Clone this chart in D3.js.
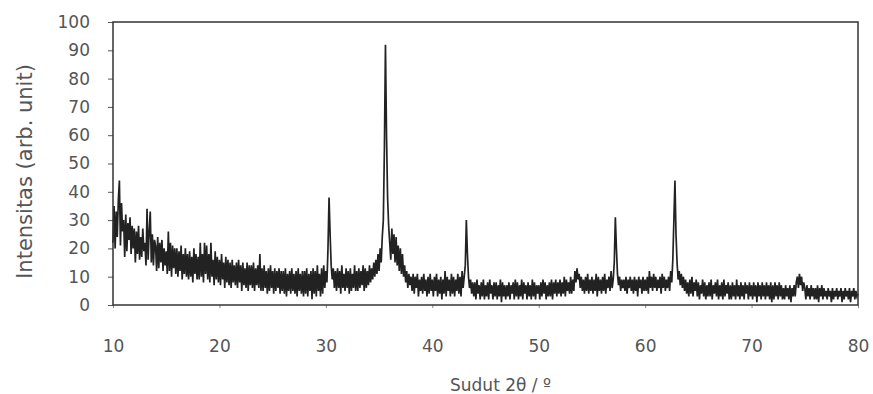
<!DOCTYPE html>
<html>
<head>
<meta charset="utf-8">
<script src="https://cdn.jsdelivr.net/npm/d3@7"></script>
<style>
  body { margin: 0; background: #fff; }
  text { font-family: "DejaVu Sans", Arial, sans-serif; fill: #555; }
</style>
</head>
<body>
<figure id="xrd" style="margin:0"></figure>
<script>
// 2-theta start / step of the scan (deg)
const thetaStart = 10;
const thetaStep = 0.1;

// intensity, one row per degree (10.0 .. 79.9), last point 80.0
const intensity = [
  22,35,20,33,24,37,44,21,36,26,
  30,17,32,19,29,23,31,18,28,20,
  27,15,26,18,28,16,24,17,27,19,
  22,14,34,16,26,33,15,25,14,23,
  21,12,24,13,22,15,23,12,20,14,
  19,11,26,12,22,10,21,13,20,11,
  20,10,19,12,21,9,18,11,20,10,
  18,9,19,10,17,8,20,11,18,9,
  17,9,22,10,18,8,22,11,21,9,
  18,8,22,10,16,7,19,9,17,8,
  16,7,18,9,15,6,17,8,16,7,
  15,6,16,8,14,7,15,6,16,8,
  14,5,15,7,13,6,15,5,14,7,
  14,6,15,5,13,7,14,6,18,5,
  13,5,14,6,12,4,13,5,14,6,
  12,4,13,5,12,6,13,4,12,5,
  12,4,13,3,11,5,12,4,13,5,
  11,4,12,3,13,5,11,4,12,3,
  12,4,13,3,11,5,12,2,13,4,
  12,3,14,5,11,3,13,4,14,6,
  12,8,20,38,25,14,9,13,6,12,
  5,13,6,12,4,14,6,11,5,13,
  6,12,4,13,5,11,6,14,5,12,
  5,13,6,12,7,14,5,13,6,12,
  7,14,8,13,9,15,10,16,11,18,
  12,20,15,24,30,55,92,60,38,28,
  22,16,27,18,25,15,24,14,21,12,
  20,11,18,10,14,8,12,6,11,7,
  10,5,11,4,10,6,11,3,9,5,
  10,4,11,5,9,3,10,4,11,5,
  9,3,10,5,11,3,9,4,10,2,
  9,4,12,3,10,5,9,3,11,4,
  10,3,9,5,11,4,10,3,12,6,
  10,14,30,18,10,6,9,4,8,3,
  8,2,9,4,7,2,8,3,9,2,
  7,3,8,2,9,4,7,2,8,3,
  8,2,7,3,9,1,8,3,7,2,
  7,3,8,2,7,4,8,2,9,3,
  8,2,7,3,9,2,8,4,7,2,
  8,3,7,2,9,3,8,2,7,4,
  7,2,8,3,9,4,8,2,7,3,
  8,3,9,2,8,4,9,3,8,4,
  9,3,8,4,10,3,9,5,8,4,
  10,4,9,5,12,8,13,9,11,6,
  10,5,9,4,10,5,11,4,9,5,
  10,4,9,5,11,3,10,5,9,4,
  10,5,11,4,9,6,10,5,12,6,
  9,15,31,20,11,7,10,5,9,6,
  9,5,10,4,9,6,10,5,9,4,
  10,5,9,3,10,6,9,4,10,5,
  9,5,10,4,12,6,10,5,11,6,
  10,5,9,6,10,4,11,6,10,5,
  9,6,10,5,12,8,16,30,44,25,
  15,9,12,7,11,6,10,5,9,4,
  8,3,9,4,10,3,8,5,9,3,
  8,2,7,4,9,3,8,2,7,3,
  8,3,9,2,7,4,8,3,9,2,
  7,3,8,2,9,3,7,4,8,2,
  7,2,8,3,7,2,9,3,7,2,
  8,3,7,2,8,4,7,2,8,3,
  7,2,8,3,7,1,8,3,7,2,
  8,3,7,2,8,3,7,2,8,1,
  7,2,8,3,7,2,8,3,7,2,
  6,2,7,3,6,2,7,1,6,3,
  7,3,8,10,6,11,7,10,5,8,
  6,2,7,3,6,2,7,3,6,2,
  6,2,7,1,6,3,7,2,6,3,
  5,2,6,3,5,1,6,2,5,3,
  6,2,5,3,6,1,5,2,6,3,
  5,2,6,1,5,3,6,2,5,3,
  4
];

const xTicks = [10, 20, 30, 40, 50, 60, 70, 80];
const yTicks = [0, 10, 20, 30, 40, 50, 60, 70, 80, 90, 100];

const xTitle = "Sudut 2θ / º";
const yTitle = "Intensitas (arb. unit)";

const width = 873, height = 394;
const margin = {top: 22, right: 15, bottom: 89, left: 113};
const w = width - margin.left - margin.right;
const h = height - margin.top - margin.bottom;

const data = intensity.map((v, i) => ({t: thetaStart + i * thetaStep, v: v}));

const svg = d3.select("figure#xrd")
  .append("svg")
  .attr("width", width)
  .attr("height", height)
  .append("g")
  .attr("transform", "translate(" + margin.left + "," + margin.top + ")");

const x = d3.scaleLinear().domain([10, 80]).range([0, w]);
const y = d3.scaleLinear().domain([0, 100]).range([h, 0]);

// x axis
const gx = svg.append("g")
  .attr("transform", "translate(0," + h + ")")
  .call(d3.axisBottom(x).tickValues(xTicks).tickSize(3).tickPadding(32));
gx.select(".domain").remove();
gx.selectAll("line").attr("stroke", "#888");
gx.selectAll("text").style("font-size", "17px").attr("fill", "#555");

// y axis
const gy = svg.append("g")
  .call(d3.axisLeft(y).tickValues(yTicks).tickSize(5).tickPadding(18));
gy.select(".domain").remove();
gy.selectAll("line").attr("stroke", "#555");
gy.selectAll("text").style("font-size", "17px").attr("fill", "#555");

// pattern
const line = d3.line()
  .x(d => x(d.t))
  .y(d => y(d.v));

svg.append("path")
  .datum(data)
  .attr("fill", "none")
  .attr("stroke", "#222")
  .attr("stroke-width", 1.7)
  .attr("stroke-linejoin", "miter")
  .attr("d", line);

// frame
svg.append("rect")
  .attr("x", 0)
  .attr("y", 0)
  .attr("width", w)
  .attr("height", h)
  .attr("fill", "none")
  .attr("stroke", "#333")
  .attr("stroke-width", 1.5);

// titles
svg.append("text")
  .attr("x", (x(45) + 15))
  .attr("y", h + 86)
  .attr("text-anchor", "middle")
  .style("font-size", "17px")
  .text(xTitle);

svg.append("text")
  .attr("transform", "translate(" + (-81) + "," + (h / 2 + 8) + ")rotate(-90)")
  .attr("text-anchor", "middle")
  .style("font-size", "21px")
  .attr("fill", "#444")
  .text(yTitle);
</script>
</body>
</html>
